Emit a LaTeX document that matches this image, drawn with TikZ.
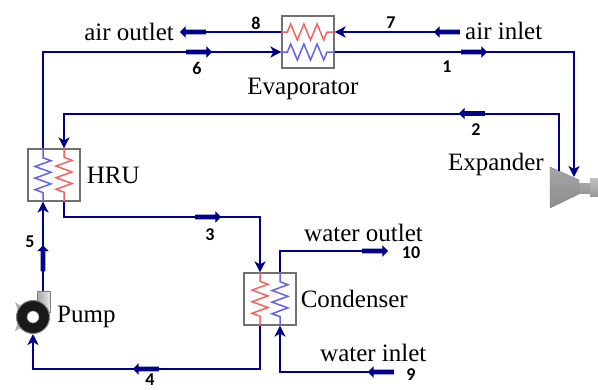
\documentclass[tikz,border=0pt]{standalone}
\usepackage{fontspec}
\setmainfont{Liberation Serif}
\newfontfamily\numfont{Carlito}
\usetikzlibrary{positioning, arrows.meta, shapes.arrows, decorations.pathmorphing}
\definecolor{pipeblue}{HTML}{00008B}
\definecolor{hotred}{HTML}{F06464}
\definecolor{coldblue}{HTML}{6464E6}
\definecolor{boxgray}{HTML}{707070}

\begin{document}
\begin{tikzpicture}[
  x=1pt, y=-1pt,
  exchanger/.style={rectangle, draw=boxgray, line width=1.2pt, fill=white,
                    minimum size=52pt, inner sep=0pt},
  txt/.style={inner sep=0pt, font=\fontsize{25}{26}\selectfont},
  num/.style={inner sep=0pt, font=\fontsize{18}{19}\selectfont\numfont\bfseries},
  line/.style={draw=pipeblue, line width=2pt},
  feed/.style={line, -{Stealth[length=11pt, width=11pt, inset=3pt]}},
  coil/.style={line width=1.5pt, decorate,
               decoration={zigzag, amplitude=8pt, segment length=13.2pt,
                           pre length=6pt, post length=6pt}},
  coilv/.style={coil, decoration={pre length=9pt, post length=8pt, segment length=11.6pt}},
  flow/.style={single arrow, fill=pipeblue, inner sep=0pt, minimum height=26pt,
               text height=4.5pt, text depth=0pt, text width=0pt,
               single arrow head extend=3.5pt, single arrow head indent=0pt},
  node distance=4pt
]
\useasboundingbox (0,0) rectangle (598,389);
% Nodes
\node[exchanger] (evap) at (308,42) {};
\node[exchanger] (hru) at (54,175) {};
\node[exchanger] (cond) at (270,299) {};
\node[txt, below=9pt of evap, xshift=-5pt] (evaplabel) {Evaporator};
\node[txt, right=6pt of hru] (hrulabel) {HRU};
\node[txt, right=4pt of cond] (condlabel) {Condenser};
\node[txt, anchor=east] (airout) at (174,32) {air outlet};
\node[txt, anchor=west] (airin) at (465,31) {air inlet};
\node[txt, anchor=east] (explabel) at (544,164) {Expander};
\node[txt, anchor=west] (waterout) at (304,233) {water outlet};
\node[txt, anchor=west] (waterin) at (320,353) {water inlet};
% Expander
\shade[top color=gray!70, middle color=gray!10, bottom color=gray!80]
  (579,183) rectangle (592,193);
\shade[top color=gray!50, middle color=gray!10, bottom color=gray!80]
  (590,178) rectangle (598,196);
\shade[top color=gray!70, middle color=gray!10, bottom color=gray!90, draw=gray]
  (550,167) -- (579,180) -- (579,194) -- (550,208) -- cycle;
% Pump
\fill[gray!60] (15,302) -- (27,310) -- (27,325) -- (15,331) -- (20,316) -- cycle;
\shade[left color=gray!70, right color=gray!20, draw=gray] (37,291) rectangle (50,312);
\node[circle, fill=black!90, draw=gray, line width=1pt, minimum size=33pt, inner sep=0pt] (pump) at (33,317) {};
\node[circle, fill=white, draw=gray, minimum size=12pt, inner sep=0pt] (pumphole) at (33,317) {};
\node[txt, right=7pt of pump] (pumplabel) {Pump};
% Coordinates
\coordinate (evaphotr) at ([yshift=10pt]evap.east);
\coordinate (evaphotl) at ([yshift=10pt]evap.west);
\coordinate (evapcoldl) at ([yshift=-10pt]evap.west);
\coordinate (evapcoldr) at ([yshift=-10pt]evap.east);
\coordinate (hrucoldt) at ([xshift=-11pt]hru.north);
\coordinate (hrucoldb) at ([xshift=-11pt]hru.south);
\coordinate (hruhott) at ([xshift=10pt]hru.north);
\coordinate (hruhotb) at ([xshift=10pt]hru.south);
\coordinate (condhott) at ([xshift=-10pt]cond.north);
\coordinate (condhotb) at ([xshift=-10pt]cond.south);
\coordinate (condcoldt) at ([xshift=10pt]cond.north);
\coordinate (condcoldb) at ([xshift=10pt]cond.south);
\coordinate (expin) at (574,177);
\coordinate (expout) at (559,171);
\coordinate (pumpout) at (43,291);
\coordinate (airoutend) at (185,32);
\coordinate (airinend) at (440,32);
\coordinate (waterinend) at (375,372);
\coordinate (wateroutend) at (375,251);
\coordinate (rowtwo) at (300,113.5);
\coordinate (rowthree) at (150,217);
\coordinate (rowfour) at (150,369);
% Coils
\draw[coil, hotred] (evaphotl) -- (evaphotr);
\draw[coil, coldblue] (evapcoldl) -- (evapcoldr);
\draw[coilv, coldblue] (hrucoldb) -- (hrucoldt);
\draw[coilv, hotred] (hruhott) -- (hruhotb);
\draw[coilv, hotred] (condhott) -- (condhotb);
\draw[coilv, coldblue] (condcoldb) -- (condcoldt);
% Edges
\path[line] (evaphotl) -- (airoutend);
\path[feed] (airinend) -- (evaphotr);
\path[feed] (hrucoldt) |- (evapcoldl);
\path[feed] (evapcoldr) -| (expin);
\path[feed] (expout) |- (rowtwo) -| (hruhott);
\path[feed] (hruhotb) |- (rowthree) -| (condhott);
\path[feed] (condhotb) |- (rowfour) -| (pump.south);
\path[feed] (pumpout) -- (hrucoldb);
\path[feed] (waterinend) -| (condcoldb);
\path[line] (condcoldt) |- (wateroutend);
% Flow marks
\node[flow, rotate=180] (flow8) at (194,32) {};
\node[flow] (flow6) at (198,52) {};
\node[flow, rotate=180] (flow7) at (448,32) {};
\node[flow] (flow1) at (473,52) {};
\node[flow, rotate=180] (flow2) at (473,113.5) {};
\node[flow] (flow3) at (207,217) {};
\node[flow, rotate=90] (flow5) at (43,259.5) {};
\node[flow, rotate=180] (flow4) at (147,369) {};
\node[flow] (flow10) at (374,251) {};
\node[flow, rotate=180] (flow9) at (382,372) {};
% Numbers
\node[num] (n8) at (256,23) {8};
\node[num] (n6) at (197,68) {6};
\node[num] (n7) at (391,23) {7};
\node[num] (n1) at (447,67) {1};
\node[num] (n2) at (476,130) {2};
\node[num] (n3) at (210,235) {3};
\node[num] (n5) at (30,242) {5};
\node[num] (n4) at (150,380) {4};
\node[num] (n10) at (411,253) {10};
\node[num] (n9) at (411,375) {9};
\end{tikzpicture}
\end{document}
